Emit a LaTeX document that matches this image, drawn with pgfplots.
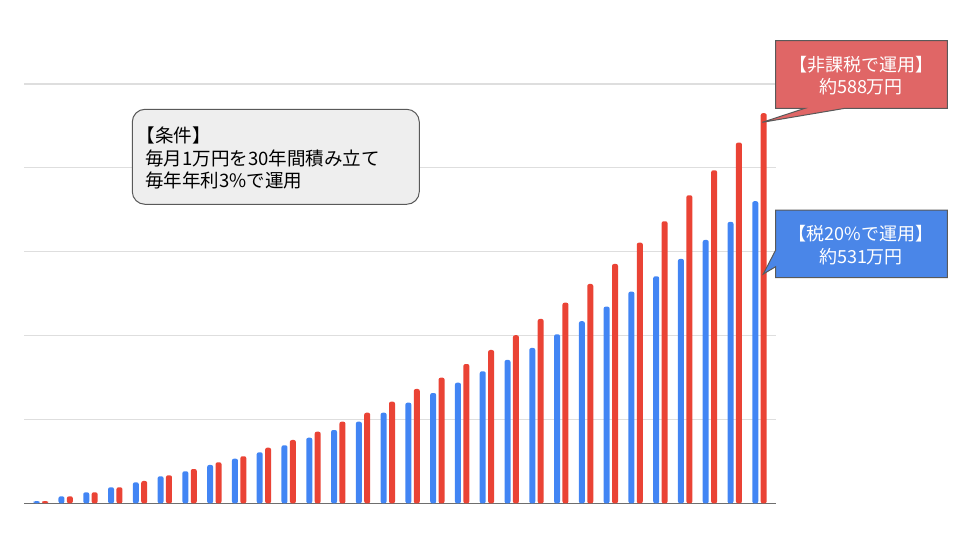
\documentclass[border=0pt]{standalone}
\usepackage{fontspec}
\setmainfont{Noto Sans CJK JP}
\usepackage{pgfplots}
\pgfplotsset{compat=1.18}

\definecolor{barblue}{HTML}{4285F4}
\definecolor{barred}{HTML}{EA4335}
\definecolor{gridgray}{HTML}{DEDEDE}
\definecolor{basegray}{HTML}{6E6E6E}
\definecolor{edgegray}{HTML}{595959}
\definecolor{condfill}{HTML}{EEEEEE}
\definecolor{calloutred}{HTML}{E06666}
\definecolor{calloutblue}{HTML}{4A86E8}

\begin{document}
\begin{tikzpicture}
  \begin{axis}[%
    at={(0pt,0pt)}, anchor=south west,
    scale only axis,
    width=564pt, height=314.5pt,
    xmin=0.318, xmax=30.666,
    ymin=0, ymax=500,
    ybar=1.8pt, bar width=4.5pt,
    axis line style={draw=none},
    tick style={draw=none},
    xtick=\empty,
    ytick={100,200,...,500},
    yticklabels={},
    ymajorgrids,
    grid style={color=gridgray, line width=0.8pt},
    extra y ticks={0},
    extra y tick labels={},
    extra y tick style={grid style={color=basegray, line width=1.1pt}},
    clip=false,
    ]

    % 税20%で運用
    \addplot [fill=barblue, draw=none, rounded corners=1.5pt] coordinates {
      (1, 2.7)   (2, 8.3)   (3, 13.1)  (4, 19.1)  (5, 25.0)
      (6, 32.2)  (7, 38.2)  (8, 45.7)  (9, 53.2)  (10, 60.8)
      (11, 69.2) (12, 78.2) (13, 87.4) (14, 97.3) (15, 108.0)
      (16, 120.0) (17, 131.5) (18, 143.8) (19, 157.4) (20, 170.9)
      (21, 185.2) (22, 201.5) (23, 217.1) (24, 234.5) (25, 252.4)
      (26, 270.7) (27, 291.4) (28, 314.0) (29, 335.5) (30, 360.2)
    };

    % 非課税で運用
    \addplot [fill=barred, draw=none, rounded corners=1.5pt] coordinates {
      (1, 2.7)   (2, 8.3)   (3, 13.1)  (4, 19.1)  (5, 26.6)
      (6, 33.4)  (7, 40.9)  (8, 48.9)  (9, 56.1)  (10, 66.3)
      (11, 75.5) (12, 85.4) (13, 97.3) (14, 108.0) (15, 121.2)
      (16, 136.3) (17, 149.8) (18, 166.1) (19, 182.8) (20, 200.4)
      (21, 219.8) (22, 239.2) (23, 261.5) (24, 285.4) (25, 310.8)
      (26, 336.3) (27, 367.3) (28, 397.1) (29, 430.1) (30, 465.1)
    };
  \end{axis}

  % pixel frame of the slide: (24,503.3) px is the axis origin
  \begin{scope}[shift={(-18pt,377.475pt)}, x=0.75pt, y=-0.75pt]
    \useasboundingbox (0,0) rectangle (960,540);

    % conditions box
    \path[draw=edgegray, fill=condfill, line width=0.75pt, rounded corners=9.5pt]
      (132.3,109.3) rectangle (419.3,204.3);
    \begin{scope}[every node/.style={anchor=west, inner sep=0pt,
        font=\fontsize{13.9}{16}\selectfont, text=black}]
      \node at (145,135) {\hspace*{-0.45em}【条件】};
      \node at (145,158) {毎月1万円を30年間積み立て};
      \node at (145,180.5) {毎年年利3\%で運用};
    \end{scope}

    % tax-free callout
    \path[draw=edgegray, fill=calloutred, line width=0.75pt]
      (775.7,40.7) -- (947.3,40.7) -- (947.3,108.3) -- (845,108.3)
      -- (762.3,122.3) -- (805,108.3) -- (775.7,108.3) -- cycle;
    % taxed callout
    \path[draw=edgegray, fill=calloutblue, line width=0.75pt]
      (775.7,210) -- (947.3,210) -- (947.3,277.7) -- (775.7,277.7)
      -- (775.7,266.7) -- (763.3,274) -- (775.7,250) -- cycle;

    \begin{scope}[every node/.style={inner sep=0pt,
        font=\fontsize{13.5}{16}\selectfont, text=white}]
      \node at (861,64.3) {【非課税で運用】};
      \node at (861,86.7) {約588万円};
      \node at (861,234) {【税20\%で運用】};
      \node at (861,256.7) {約531万円};
    \end{scope}
  \end{scope}
\end{tikzpicture}
\end{document}
